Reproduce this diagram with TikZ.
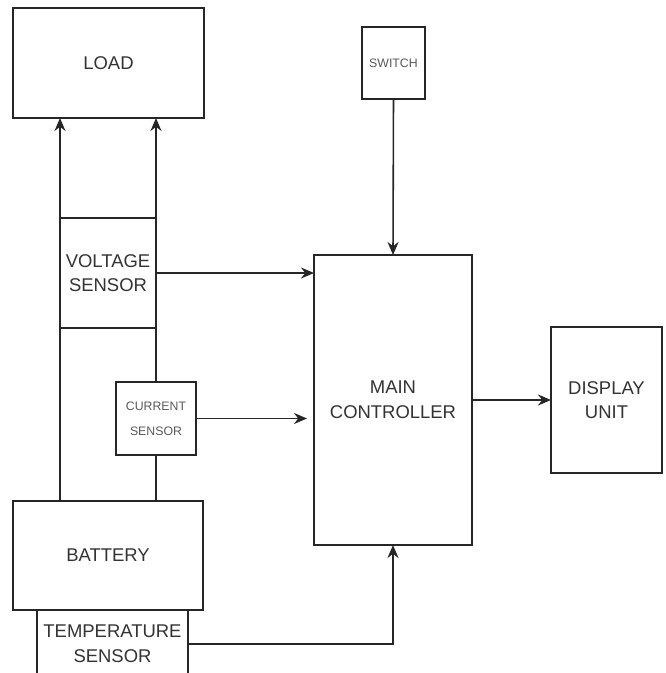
\documentclass[tikz,border=0pt]{standalone}
\usepackage{fontspec}
\setmainfont{Liberation Sans}
\usepackage{xcolor}
\usetikzlibrary{arrows.meta,positioning,calc}

\begin{document}
\begin{tikzpicture}[
  x=0.2mm, y=-0.2mm,
  blk/.style={draw=black!85, line width=0.9pt, inner sep=0pt, outer sep=0pt,
    align=center, text=black!80, font=\fontsize{10.5}{14}\selectfont},
  sml/.style={blk, text=black!65, font=\fontsize{7}{14}\selectfont},
  arr/.style={-{Stealth[length=2.6mm,width=2.2mm]}, line width=0.9pt, draw=black!85},
  wire/.style={line width=0.9pt, draw=black!85},
]
  \clip (0,0) rectangle (666,673);
  \fill[white] (0,0) rectangle (666,673);

  % ── Blocks ──
  \node[blk, minimum width=38.2mm, minimum height=22mm] (load) at (108.5,63) {LOAD};
  \node[sml, minimum width=12.6mm, minimum height=14.4mm] (switch) at (393.5,63) {SWITCH};
  \node[blk, minimum width=19.2mm, minimum height=22mm] (volt) at (108,273) {VOLTAGE\\SENSOR};
  \node[sml, minimum width=16mm, minimum height=14.6mm] (curr) at (156,418.5) {CURRENT\\SENSOR};
  \node[blk, minimum width=38mm, minimum height=21.8mm] (batt) at (108,555.5) {BATTERY};
  \node[blk, minimum width=30.2mm, minimum height=13.6mm] (temp) at (112.5,644) {TEMPERATURE\\SENSOR};
  \node[blk, minimum width=31.6mm, minimum height=58mm] (main) at (393,400) {MAIN\\CONTROLLER};
  \node[blk, minimum width=22.2mm, minimum height=29.2mm] (disp) at (606.5,400) {DISPLAY\\UNIT};

  % ── Power path ──
  \draw[arr] (batt.north -| volt.west) -- (load.south -| volt.west);
  \draw[wire] (batt.north -| curr) -- (curr.south);
  \draw[arr] (curr.north) -- (curr.north |- load.south);

  % ── Signals to controller ──
  \draw[arr] (volt.east) -- (main.west |- volt.east);
  \draw[arr, shorten >=1.4mm] (curr.east) -- (main.west |- curr.east);
  \draw[arr] (switch.south) -- (main.north);
  \draw[arr] (temp.east) -| (main.south);
  \draw[arr] (main.east) -- (disp.west);

\end{tikzpicture}
\end{document}
